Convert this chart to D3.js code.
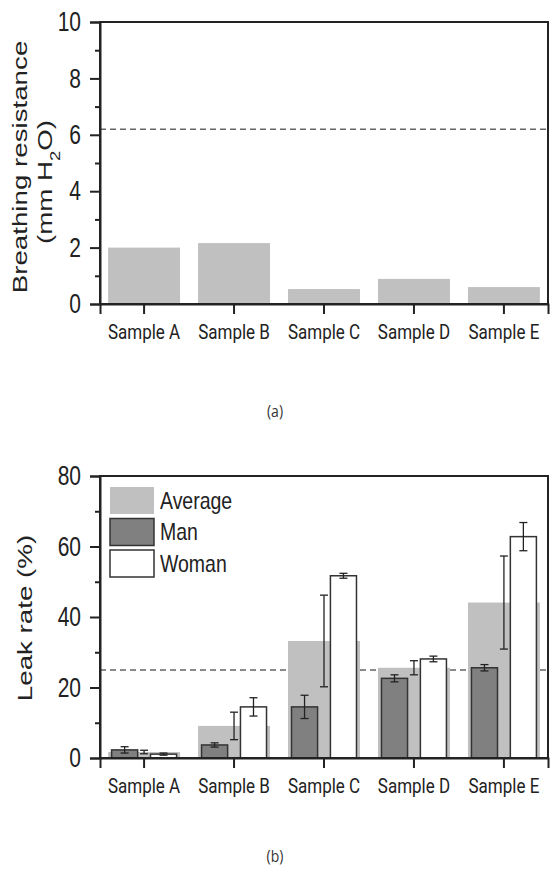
<!DOCTYPE html>
<html>
<head>
<meta charset="utf-8">
<script src="https://cdn.jsdelivr.net/npm/d3@7"></script>
<style>
  body { margin: 0; background: #fff; }
  svg { display: block; }
  .tick text { fill: #222; }
</style>
</head>
<body>
<svg id="canvas" width="550" height="882"></svg>
<script>
(function() {
// data
var samples = ["Sample A", "Sample B", "Sample C", "Sample D", "Sample E"];
var resistance = [2.0, 2.16, 0.53, 0.89, 0.6];
var resistanceLimit = 6.2;
var resistanceTicks = [0, 2, 4, 6, 8, 10];

var avgLeak = [1.7, 9.1, 33.2, 25.6, 44.1];
var avgLeakErr = [0.5, 3.9, 13.0, 2.0, 13.2];
var manLeak = [2.3, 3.7, 14.5, 22.6, 25.6];
var manLeakErr = [0.9, 0.6, 3.3, 1.0, 0.9];
var womanLeak = [1.1, 14.5, 51.7, 28.1, 62.8];
var womanLeakErr = [0.3, 2.6, 0.7, 0.8, 4.0];
var leakLimit = 25;
var leakTicks = [0, 20, 40, 60, 80];
var legendNames = ["Average", "Man", "Woman"];

var svg = d3.select("#canvas");
var left = 100, right = 548, plotH = 282;
var font = "'Liberation Sans', Arial, sans-serif";
// the original figure is stretched vertically, so text is drawn taller than wide

var x = d3.scaleBand().domain(samples).range([left, right]).paddingInner(0.2).paddingOuter(0.09);

function limitLine(y, limit) {
  svg.append("line")
    .attr("x1", left).attr("x2", right)
    .attr("y1", y(limit)).attr("y2", y(limit))
    .attr("stroke", "#666").attr("stroke-width", 1.5).attr("stroke-dasharray", "6,4");
}

function axes(top, y, ticks, minor) {
  // box
  svg.append("rect")
    .attr("x", left).attr("y", top).attr("width", right - left).attr("height", plotH)
    .attr("fill", "none").attr("stroke", "#222").attr("stroke-width", 2);

  var ya = svg.append("g").attr("transform", "translate(" + left + ",0)")
    .call(d3.axisLeft(y).tickValues(ticks).tickSize(10).tickPadding(9).tickFormat(d3.format("d")));
  ya.selectAll("text").style("font-family", font).style("font-size", "21px")
    .attr("transform", "scale(1,1.3)");
  ya.selectAll("line, path").attr("stroke", "#222").attr("stroke-width", 2);

  var ym = svg.append("g").attr("transform", "translate(" + left + ",0)")
    .call(d3.axisLeft(y).tickValues(minor).tickSize(5).tickFormat(""));
  ym.select(".domain").remove();
  ym.selectAll("line").attr("stroke", "#222").attr("stroke-width", 2);

  var xa = svg.append("g").attr("transform", "translate(0," + (top + plotH) + ")")
    .call(d3.axisBottom(x).tickSize(10).tickPadding(7));
  xa.selectAll("text").style("font-family", "Roboto, sans-serif").style("font-size", "17px")
    .attr("transform", "scale(1,1.22)");
  xa.selectAll("line, path").attr("stroke", "#222").attr("stroke-width", 2);
}

function yLabel(cx, cy) {
  return svg.append("text")
    .attr("transform", "translate(" + cx + "," + cy + ") rotate(-90) scale(1.32,1)")
    .attr("text-anchor", "middle")
    .style("font-family", font).style("font-size", "21px").attr("fill", "#222");
}

// ---------- (a) breathing resistance ----------
var topA = 22;
var yA = d3.scaleLinear().domain([0, 10]).range([topA + plotH, topA]);
limitLine(yA, resistanceLimit);

svg.append("g").selectAll("rect")
  .data(resistance)
  .join("rect")
  .attr("x", function(d, i) { return x(samples[i]); })
  .attr("width", x.bandwidth())
  .attr("y", function(d) { return yA(d); })
  .attr("height", function(d) { return yA(0) - yA(d); })
  .attr("fill", "#c0c0c0");

axes(topA, yA, resistanceTicks, [1, 3, 5, 7, 9]);

yLabel(20, 167).append("tspan").attr("dy", "0.35em").text("Breathing resistance");
var l2 = yLabel(45, 182);
l2.append("tspan").attr("dy", "0.35em").text("(mm H");
l2.append("tspan").attr("baseline-shift", "sub").style("font-size", "14px").text("2");
l2.append("tspan").text("O)");

svg.append("text").attr("x", 275).attr("y", 417).attr("text-anchor", "middle")
  .attr("transform", "translate(0,-83) scale(1,1.2)")
  .style("font-family", "'Open Sans', sans-serif").style("font-size", "14px").attr("fill", "#333")
  .text("(a)");

// ---------- (b) leak rate ----------
var topB = 476;
var yB = d3.scaleLinear().domain([0, 80]).range([topB + plotH, topB]);
limitLine(yB, leakLimit);

var sub = d3.scaleBand().domain(["Man", "Woman"]).range([0, x.bandwidth()])
  .paddingInner(0.33).paddingOuter(0.09);

var groups = svg.append("g").selectAll("g")
  .data(samples)
  .join("g")
  .attr("transform", function(d) { return "translate(" + x(d) + ",0)"; });

groups.append("rect")
  .attr("width", x.bandwidth())
  .attr("y", function(d, i) { return yB(avgLeak[i]); })
  .attr("height", function(d, i) { return yB(0) - yB(avgLeak[i]); })
  .attr("fill", "#c0c0c0");

groups.append("rect")
  .attr("x", sub("Man"))
  .attr("width", sub.bandwidth())
  .attr("y", function(d, i) { return yB(manLeak[i]); })
  .attr("height", function(d, i) { return yB(0) - yB(manLeak[i]); })
  .attr("fill", "#808080").attr("stroke", "#333").attr("stroke-width", 1.5);

groups.append("rect")
  .attr("x", sub("Woman"))
  .attr("width", sub.bandwidth())
  .attr("y", function(d, i) { return yB(womanLeak[i]); })
  .attr("height", function(d, i) { return yB(0) - yB(womanLeak[i]); })
  .attr("fill", "#fff").attr("stroke", "#333").attr("stroke-width", 1.5);

function errorBars(cx, vals, errs) {
  var e = groups.append("g").attr("stroke", "#222").attr("stroke-width", 1.3);
  e.append("line")
    .attr("x1", cx).attr("x2", cx)
    .attr("y1", function(d, i) { return yB(vals[i] + errs[i]); })
    .attr("y2", function(d, i) { return yB(vals[i] - errs[i]); });
  [1, -1].forEach(function(s) {
    e.append("line")
      .attr("x1", cx - 4).attr("x2", cx + 4)
      .attr("y1", function(d, i) { return yB(vals[i] + s * errs[i]); })
      .attr("y2", function(d, i) { return yB(vals[i] + s * errs[i]); });
  });
}
errorBars(sub("Man") + sub.bandwidth() / 2, manLeak, manLeakErr);
errorBars(x.bandwidth() / 2, avgLeak, avgLeakErr);
errorBars(sub("Woman") + sub.bandwidth() / 2, womanLeak, womanLeakErr);

axes(topB, yB, leakTicks, [10, 30, 50, 70]);

yLabel(25, 618).append("tspan").attr("dy", "0.35em").text("Leak rate (%)");

// legend
var legFill = ["#c0c0c0", "#808080", "#fff"];
var legStroke = ["none", "#333", "#333"];
var leg = svg.append("g").attr("transform", "translate(110,487)")
  .selectAll("g").data(legendNames).join("g")
  .attr("transform", function(d, i) { return "translate(0," + i * 31.5 + ")"; });
leg.append("rect").attr("width", 44).attr("height", 27)
  .attr("fill", function(d, i) { return legFill[i]; })
  .attr("stroke", function(d, i) { return legStroke[i]; })
  .attr("stroke-width", 1.5);
leg.append("text").attr("x", 50).attr("y", 11.5).attr("dy", "0.35em")
  .attr("transform", "scale(1,1.2)")
  .style("font-family", font).style("font-size", "19.5px").attr("fill", "#222")
  .text(function(d) { return d; });

svg.append("text").attr("x", 275).attr("y", 862).attr("text-anchor", "middle")
  .attr("transform", "translate(0,-172) scale(1,1.2)")
  .style("font-family", "'Open Sans', sans-serif").style("font-size", "14px").attr("fill", "#333")
  .text("(b)");
})();
</script>
</body>
</html>
